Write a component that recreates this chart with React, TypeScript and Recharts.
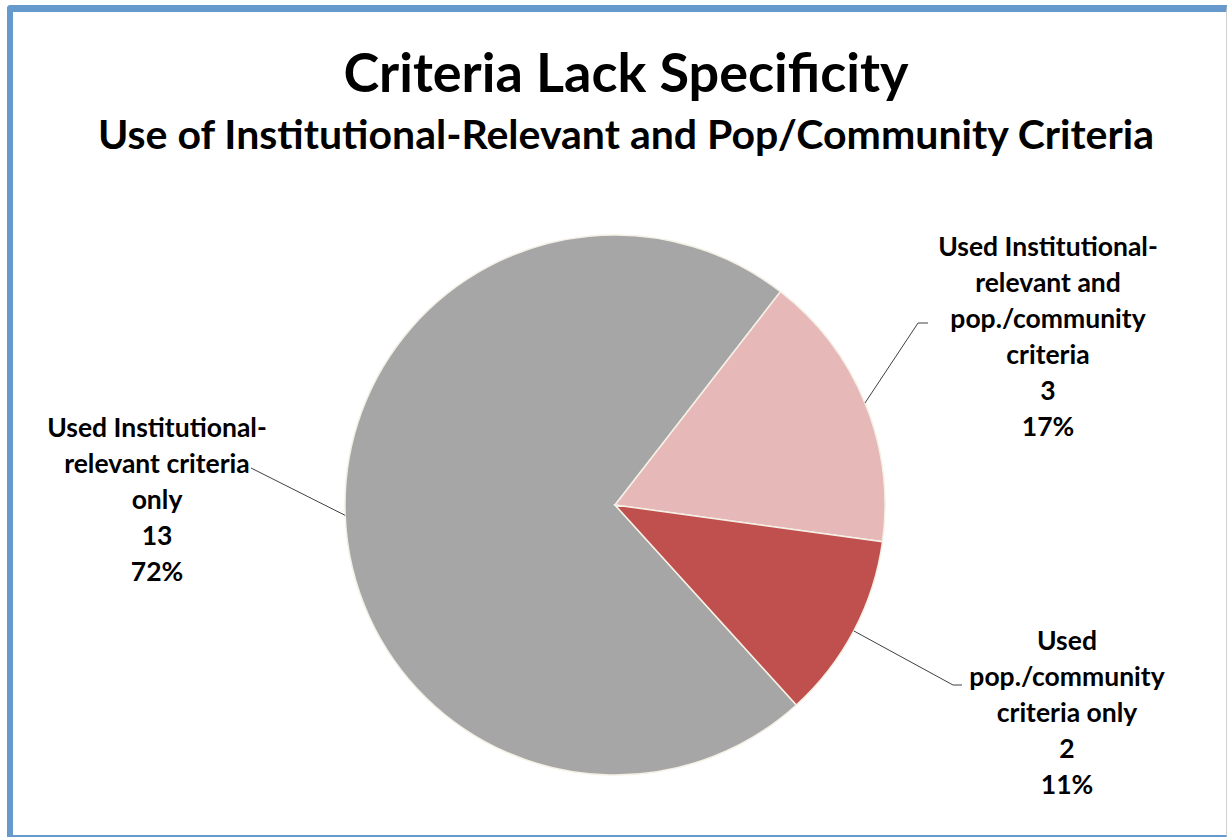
import { PieChart, Pie, Cell } from 'recharts';

// Slice data
const categories = [
  'Used Institutional-relevant criteria only',
  'Used Institutional-relevant and pop./community criteria',
  'Used pop./community criteria only',
];
const counts = [13, 3, 2];
const colors = ['#a6a6a6', '#e6b9b8', '#c0504d'];

// How each label is broken into lines
const labelText = [
  ['Used Institutional-', 'relevant criteria', 'only'],
  ['Used Institutional-', 'relevant and', 'pop./community', 'criteria'],
  ['Used', 'pop./community', 'criteria only'],
];

// Label placement (layout only)
const labelLayout = [
  { x: 157, y: 437, lineX: 251, lineY: 468, elbow: 0 },
  { x: 1048, y: 256, lineX: 918, lineY: 323, elbow: 10 },
  { x: 1067, y: 650, lineX: 953, lineY: 685, elbow: 9 },
];

const W = 1228;
const H = 837;
const RAD = Math.PI / 180;
const font = 'Lato, "Open Sans", sans-serif';

const data = categories.map((name, i) => ({ name, value: counts[i] }));
const total = counts.reduce((a, b) => a + b, 0);

function renderLabel(props: any) {
  const { cx, cy, midAngle, outerRadius, index, value } = props;
  const lay = labelLayout[index];
  const sx = cx + outerRadius * Math.cos(-midAngle * RAD);
  const sy = cy + outerRadius * Math.sin(-midAngle * RAD);
  const lines = [...labelText[index], String(value), Math.round((value / total) * 100) + '%'];
  return (
    <g key={'lbl' + index}>
      <polyline
        points={`${sx},${sy} ${lay.lineX},${lay.lineY} ${lay.lineX + lay.elbow},${lay.lineY}`}
        fill="none"
        stroke="#404040"
        strokeWidth={1}
      />
      {lines.map((t, j) => (
        <text
          key={j}
          x={lay.x}
          y={lay.y + j * 36}
          textAnchor="middle"
          fontFamily={font}
          fontWeight={700}
          fontSize={26.5}
          fill="#000"
        >
          {t}
        </text>
      ))}
    </g>
  );
}

export default function App() {
  return (
    <div style={{ position: 'absolute', left: 0, top: 0, width: W, height: H, background: '#fff' }}>
      <div
        style={{
          position: 'absolute',
          left: 7,
          top: 5,
          width: W - 7 - 6 - 2,
          height: H - 5 - 7 - 2,
          borderLeft: '6px solid #6699cc',
          borderTop: '7px solid #6699cc',
          borderRight: '1px solid #d0d0d0',
          borderBottom: '2px solid #6699cc',
          borderTopLeftRadius: 4,
        }}
      />
      <svg width={W} height={H} style={{ position: 'absolute', left: 0, top: 0 }}>
        <text x={626} y={92} textAnchor="middle" fontFamily={font} fontWeight={700} fontSize={54} fill="#000">
          Criteria Lack Specificity
        </text>
        <text x={626} y={149} textAnchor="middle" fontFamily={font} fontWeight={700} fontSize={41} fill="#000">
          Use of Institutional-Relevant and Pop/Community Criteria
        </text>
      </svg>
      <div style={{ position: 'absolute', left: 0, top: 0 }}>
        <PieChart width={W} height={H}>
          <Pie
            data={data}
            dataKey="value"
            nameKey="name"
            cx={610}
            cy={500}
            outerRadius={270}
            startAngle={312.2}
            endAngle={-47.8}
            stroke="#f4f0e6"
            strokeWidth={1.5}
            label={renderLabel}
            labelLine={false}
            isAnimationActive={false}
          >
            {data.map((d, i) => (
              <Cell key={d.name} fill={colors[i]} />
            ))}
          </Pie>
        </PieChart>
      </div>
    </div>
  );
}
